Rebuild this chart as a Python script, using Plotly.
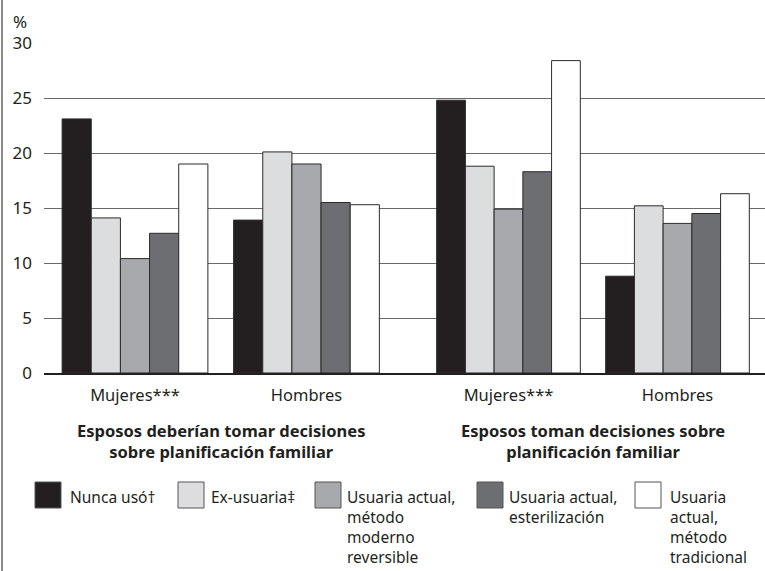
import plotly.graph_objects as go

# ---- data ----
categories = ["Mujeres***", "Hombres"]
panel_titles = [
    "Esposos deberían tomar decisiones<br>sobre planificación familiar",
    "Esposos toman decisiones sobre<br>planificación familiar",
]
series_names = [
    "Nunca usó†",
    "Ex-usuaria‡",
    "Usuaria actual,<br>método<br>moderno<br>reversible",
    "Usuaria actual,<br>esterilización",
    "Usuaria<br>actual,<br>método<br>tradicional",
]
# values: [panel1 Mujeres, panel1 Hombres, panel2 Mujeres, panel2 Hombres]
nunca_uso = [23.1, 13.9, 24.8, 8.8]
ex_usuaria = [14.1, 20.1, 18.8, 15.2]
moderno_reversible = [10.4, 19.0, 14.9, 13.6]
esterilizacion = [12.7, 15.5, 18.3, 14.5]
tradicional = [19.0, 15.3, 28.4, 16.3]
y_ticks = [0, 5, 10, 15, 20, 25, 30]

series_values = [nunca_uso, ex_usuaria, moderno_reversible, esterilizacion, tradicional]

# ---- styles ----
colors = ["#231f20", "#dcddde", "#a7a9ac", "#6d6e71", "#ffffff"]
FONT = "Noto Sans"
W, H = 765, 571
L, R, T, B = 44, 765, 43, 373  # plot area in pixels


def px(x):
    return (x - L) / (R - L)


def py(y):
    return (B - y) / (B - T)


fig = go.Figure()
axes = [("x", "y"), ("x2", "y")]
for si, (name, vals, col) in enumerate(zip(series_names, series_values, colors)):
    for p, (xa, ya) in enumerate(axes):
        fig.add_trace(go.Bar(
            x=categories, y=vals[2 * p:2 * p + 2], name=name.replace("<br>", " "),
            xaxis=xa, yaxis=ya, marker=dict(color=col, line=dict(color="#2b2b2b", width=1)),
            showlegend=False, hoverinfo="y",
        ))

split = px(407.5)
common_x = dict(type="category", showgrid=False, showline=True, linecolor="#231f20", linewidth=1.5,
                ticks="", tickfont=dict(family=FONT, size=16.5, color="#231f20"),
                ticklabelstandoff=6, fixedrange=True)
fig.update_layout(
    width=W, height=H,
    margin=dict(l=L, r=W - R, t=T, b=H - B, pad=0),
    paper_bgcolor="white", plot_bgcolor="white",
    barmode="group", bargap=0.15, bargroupgap=0,
    xaxis=dict(domain=[0, split], range=[-0.5306, 1.589], anchor="y", **common_x),
    xaxis2=dict(domain=[split, 1], range=[-0.5976, 1.5178], anchor="y", **common_x),
    yaxis=dict(range=[0, 30.001], tickvals=y_ticks, showgrid=True, gridcolor="#6a6a6a", gridwidth=1,
               zeroline=False, showline=False, ticks="", ticklabelstandoff=11,
               tickfont=dict(family=FONT, size=17, color="#231f20"), fixedrange=True),
    font=dict(family=FONT, color="#231f20"),
)

annotations = []
# % label
annotations.append(dict(text="%", xref="paper", yref="paper", x=px(11), y=py(22), xanchor="left",
                        yanchor="middle", showarrow=False, font=dict(size=17)))
# panel titles (bold)
for p, title in enumerate(panel_titles):
    annotations.append(dict(text="<b>" + title + "</b>", xref=axes[p][0], yref="paper", x=0.5,
                            y=py(440.5), xanchor="center", yanchor="middle",
                            showarrow=False, font=dict(size=16.5)))

# manual legend
box_left = [35, 178, 315, 477, 635]
text_left = [68, 209, 345, 507, 668]
shapes = []
for i, (name, col) in enumerate(zip(series_names, colors)):
    shapes.append(dict(type="rect", xref="paper", yref="paper", x0=px(box_left[i]), x1=px(box_left[i] + 26),
                       y0=py(482), y1=py(508), fillcolor=col, line=dict(color="#555555", width=1)))
    annotations.append(dict(text=name, xref="paper", yref="paper", x=px(text_left[i]),
                            y=py(484), xanchor="left", yanchor="top", align="left",
                            showarrow=False, font=dict(size=15.5)))

# left frame line
shapes.append(dict(type="line", xref="paper", yref="paper", x0=px(2), x1=px(2), y0=py(0), y1=py(571),
                   line=dict(color="#8a8a8a", width=2)))

fig.update_layout(annotations=annotations, shapes=shapes)
fig.write_html("out.html", config={"displayModeBar": False},
               post_script="document.body.style.margin='0px';")
